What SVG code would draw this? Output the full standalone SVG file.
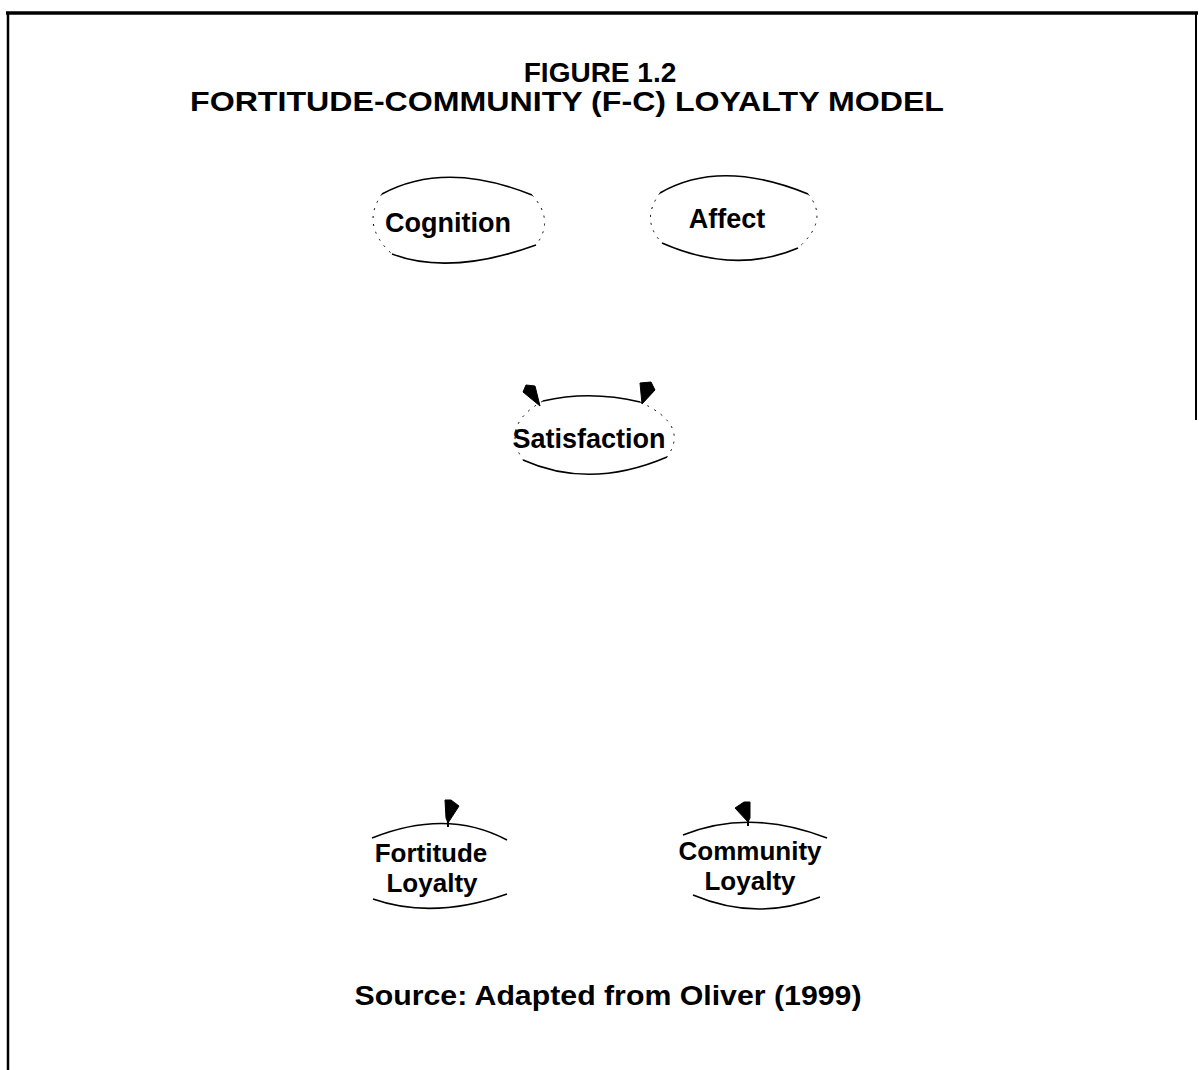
<svg xmlns="http://www.w3.org/2000/svg" width="1199" height="1070" viewBox="0 0 1199 1070">
  <style>
    .frame { stroke: #000; fill: none; }
    .title { font-family: "Liberation Sans", Arial, sans-serif; font-weight: bold; font-size: 28px; fill: #000; text-anchor: middle; }
    .label { font-family: "Liberation Sans", Arial, sans-serif; font-weight: bold; font-size: 27px; fill: #000; text-anchor: middle; }
    .two-line { font-size: 26px; }
    .arc { stroke: #000; stroke-width: 1.6; fill: none; }
    .faint { stroke: #000; stroke-width: 1; fill: none; stroke-dasharray: 2 6; }
    .head { fill: #000; stroke: #000; stroke-width: 1; stroke-linejoin: round; }
    .stub { stroke: #000; stroke-width: 2; }
  </style>
  <rect width="1199" height="1070" fill="#fff"/>

  <!-- page frame -->
  <g id="frame">
    <line class="frame" x1="6" y1="13" x2="1198" y2="13" stroke-width="3.5"/>
    <line class="frame" x1="8" y1="12" x2="8" y2="1070" stroke-width="2.5"/>
    <line class="frame" x1="1196" y1="12" x2="1196" y2="420" stroke-width="2"/>
  </g>

  <!-- heading -->
  <g id="heading">
    <text class="title" x="600" y="82">FIGURE 1.2</text>
    <text class="title" x="567" y="111" textLength="754" lengthAdjust="spacingAndGlyphs">FORTITUDE-COMMUNITY (F-C) LOYALTY MODEL</text>
  </g>

  <!-- nodes -->
  <g id="cognition">
    <path class="arc" d="M382,194 Q445,160 532,195"/>
    <path class="arc" d="M392,254 Q450,276 536,245"/>
    <path class="faint" d="M382,194 Q360,225 392,254"/>
    <path class="faint" d="M532,195 Q555,220 536,245"/>
    <text class="label" x="448" y="232">Cognition</text>
  </g>

  <g id="affect">
    <path class="arc" d="M660,193 Q720,158 808,194"/>
    <path class="arc" d="M662,243 Q735,275 798,248"/>
    <path class="faint" d="M660,193 Q640,220 662,243"/>
    <path class="faint" d="M808,194 Q830,220 798,248"/>
    <text class="label" x="727" y="228">Affect</text>
  </g>

  <g id="satisfaction">
    <path class="arc" d="M543,401 Q590,390 640,402"/>
    <path class="arc" d="M523,460 Q590,490 667,457"/>
    <path class="faint" d="M543,401 Q500,425 523,460"/>
    <path class="faint" d="M640,402 Q690,425 667,457"/>
    <text class="label" x="589" y="448">Satisfaction</text>
  </g>

  <g id="fortitude-loyalty">
    <path class="arc" d="M372,838 Q447,808 507,840"/>
    <path class="arc" d="M373,899 Q433,920 507,894"/>
    <text class="label two-line" x="431" y="862">Fortitude</text>
    <text class="label two-line" x="432" y="892">Loyalty</text>
  </g>

  <g id="community-loyalty">
    <path class="arc" d="M683,835 Q750,808 827,838"/>
    <path class="arc" d="M693,895 Q757,922 820,897"/>
    <text class="label two-line" x="750" y="860">Community</text>
    <text class="label two-line" x="750" y="890">Loyalty</text>
  </g>

  <!-- connectors: only the arrowheads at each target remain visible -->
  <g id="connectors">
    <!-- Cognition -> Satisfaction -->
    <polygon class="head" points="523,392 526,385 535,386 540,406"/>
    <!-- Affect -> Satisfaction -->
    <polygon class="head" points="640,383 651,382 655,390 642,404"/>
    <!-- Satisfaction -> Fortitude Loyalty -->
    <polygon class="head" points="445,800 451,800 459,806 448,823 446,818"/>
    <line class="stub" x1="448" y1="820" x2="448" y2="827"/>
    <!-- Satisfaction -> Community Loyalty -->
    <polygon class="head" points="750,802 744,802 735,808 748,822 750,818"/>
    <line class="stub" x1="748" y1="820" x2="748" y2="826"/>
  </g>

  <!-- source note -->
  <g id="source">
    <text class="title" x="608" y="1005" textLength="507" lengthAdjust="spacingAndGlyphs">Source: Adapted from Oliver (1999)</text>
  </g>
</svg>
